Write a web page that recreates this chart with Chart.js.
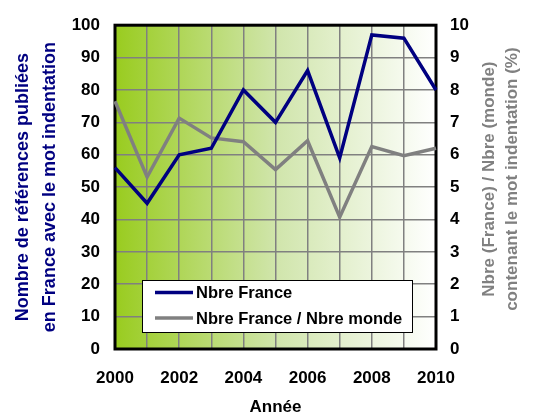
<!DOCTYPE html>
<html><head><meta charset="utf-8">
<script src="https://cdn.jsdelivr.net/npm/chart.js@4"></script>
<style>html,body{margin:0;padding:0;background:#fff}#wrap{width:534px;height:420px}</style>
</head><body><div id="wrap"><canvas id="c" width="534" height="420"></canvas></div>
<script>
const years = ['2000','2001','2002','2003','2004','2005','2006','2007','2008','2009','2010'];
const nbreFrance = [56, 45, 60, 62, 80, 70, 86, 59, 97, 96, 80];
const ratioFranceMonde = [7.65, 5.31, 7.13, 6.52, 6.4, 5.54, 6.43, 4.07, 6.25, 5.97, 6.2];
const seriesNames = ['Nbre France', 'Nbre France / Nbre monde'];
const leftTitle = ['Nombre de références publiées', 'en France avec le mot indentation'];
const rightTitle = ['Nbre (France) / Nbre (monde)', 'contenant le mot indentation (%)'];
const xTitle = 'Année';

const FONT = 'Liberation Sans, Arial, sans-serif';
const BLUE = '#000080';
const GRAY = '#808080';

const bgPlugin = {
  id: 'bg',
  beforeDraw(chart) {
    const {ctx, chartArea: a} = chart;
    const g = ctx.createLinearGradient(a.left, 0, a.right, 0);
    g.addColorStop(0, '#99cc1f');
    g.addColorStop(0.5, '#d0e5ab');
    g.addColorStop(1, '#ffffff');
    ctx.save();
    ctx.fillStyle = g;
    ctx.fillRect(a.left, a.top, a.right - a.left, a.bottom - a.top);
    ctx.restore();
  },
  beforeDatasetsDraw(chart) {
    const {ctx, chartArea: a} = chart;
    ctx.save();
    ctx.strokeStyle = '#000';
    ctx.lineWidth = 3;
    ctx.strokeRect(a.left, a.top, a.right - a.left, a.bottom - a.top);
    ctx.restore();
  },
  afterDraw(chart) {
    const {ctx, chartArea: a} = chart;
    ctx.save();
    // right axis title (reads bottom to top)
    ctx.font = 'bold 17px ' + FONT;
    ctx.fillStyle = GRAY;
    ctx.textAlign = 'center';
    ctx.textBaseline = 'middle';
    const cy = (a.top + a.bottom) / 2 - 8;
    [489, 512].forEach((x, i) => {
      ctx.save();
      ctx.translate(x, cy);
      ctx.rotate(-Math.PI / 2);
      ctx.fillText(rightTitle[i], 0, 0);
      ctx.restore();
    });
    // legend box
    const w = 270, h = 52;
    const bx = a.right - 24 - w, by = a.bottom - 17 - h;
    ctx.fillStyle = '#fff';
    ctx.fillRect(bx, by, w, h);
    ctx.strokeStyle = '#000';
    ctx.lineWidth = 1;
    ctx.strokeRect(bx + 0.5, by + 0.5, w, h);
    ctx.font = 'bold 16.5px ' + FONT;
    ctx.textAlign = 'left';
    chart.data.datasets.forEach((ds, i) => {
      const y = by + 12.5 + i * 25.5;
      ctx.strokeStyle = ds.borderColor;
      ctx.lineWidth = 3.5;
      ctx.beginPath();
      ctx.moveTo(bx + 13, y);
      ctx.lineTo(bx + 51, y);
      ctx.stroke();
      ctx.fillStyle = '#000';
      ctx.fillText(ds.label, bx + 54, y + 1);
    });
    ctx.restore();
  }
};

const tickFont = { family: FONT, size: 17, weight: 'bold' };

new Chart(document.getElementById('c'), {
  type: 'line',
  data: {
    labels: years,
    datasets: [
      { label: seriesNames[0], data: nbreFrance, yAxisID: 'y', borderColor: BLUE, borderWidth: 3.5, pointRadius: 0, tension: 0, fill: false },
      { label: seriesNames[1], data: ratioFranceMonde, yAxisID: 'y2', borderColor: GRAY, borderWidth: 3.5, pointRadius: 0, tension: 0, fill: false }
    ]
  },
  options: {
    responsive: false,
    animation: false,
    layout: { padding: { top: 17, left: 0, right: 0, bottom: 0 } },
    plugins: { legend: { display: false }, tooltip: { enabled: false } },
    scales: {
      x: {
        type: 'category',
        offset: false,
        grid: { color: GRAY, lineWidth: 1.5, drawTicks: false },
        border: { display: false },
        ticks: {
          autoSkip: false, maxRotation: 0, padding: 19,
          color: '#000', font: tickFont,
          callback: (v, i) => (i % 2 === 0 ? years[i] : '')
        },
        title: { display: true, text: xTitle, color: '#000', font: { family: FONT, size: 17, weight: 'bold' }, padding: { top: 0, bottom: 2 } },
        afterFit: s => { s.height = 71; }
      },
      y: {
        position: 'left', min: 0, max: 100,
        grid: { color: GRAY, lineWidth: 1.5, drawTicks: false },
        border: { display: false },
        ticks: { stepSize: 10, padding: 15, color: '#000', font: tickFont },
        title: { display: true, text: leftTitle, color: BLUE, font: { family: FONT, size: 18, weight: 'bold', lineHeight: 1.5 }, padding: { top: 10, bottom: 0 } },
        afterFit: s => { s.width = 115; }
      },
      y2: {
        position: 'right', min: 0, max: 10,
        grid: { display: false, drawTicks: false },
        border: { display: false },
        ticks: { stepSize: 1, padding: 14, color: '#000', font: tickFont },
        afterFit: s => { s.width = 98; }
      }
    }
  },
  plugins: [bgPlugin]
});
</script>
</body></html>
